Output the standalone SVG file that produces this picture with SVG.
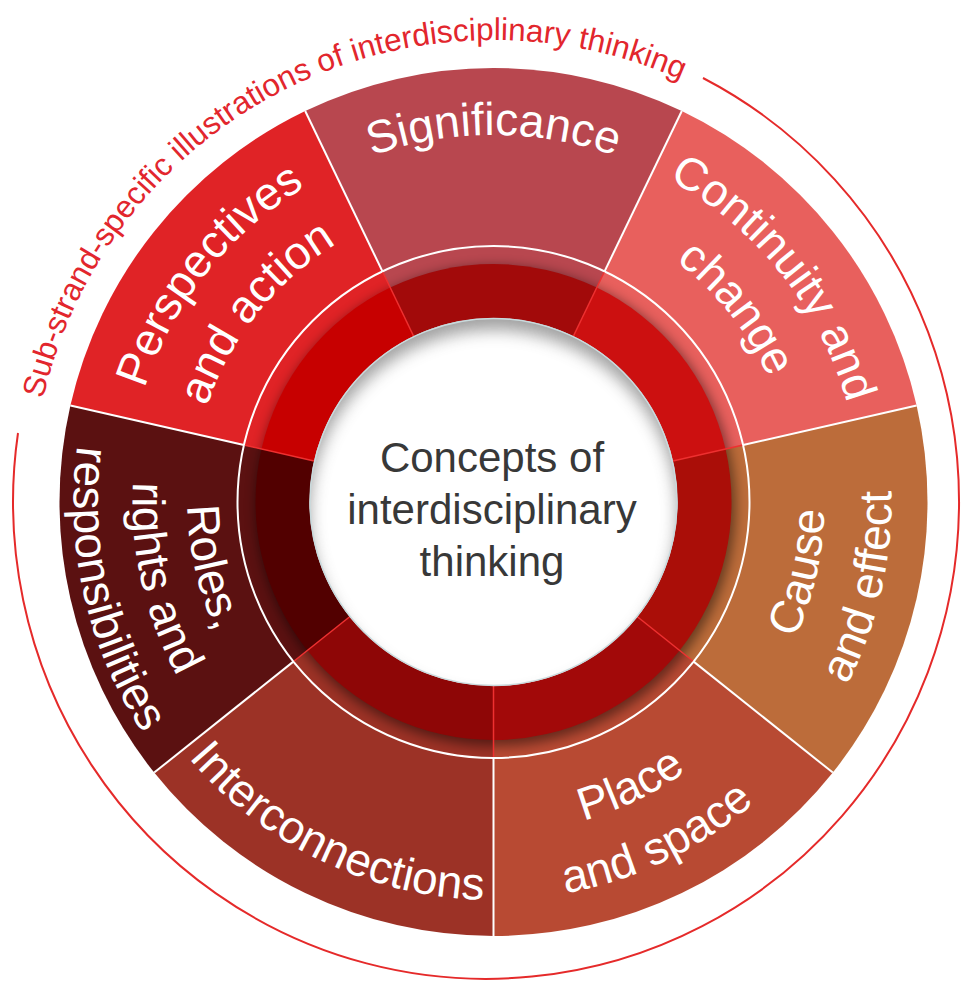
<svg xmlns="http://www.w3.org/2000/svg" width="962" height="982" viewBox="0 0 962 982">
<style>
.lbl{font-family:"Liberation Sans",Arial,sans-serif;font-size:46px;fill:#ffffff}
.ctr{font-family:"Liberation Sans",Arial,sans-serif;font-size:42px;fill:#383838;text-anchor:middle}
.ttl{font-family:"Liberation Sans",Arial,sans-serif;font-size:31.5px;fill:#e2262d}
.wdiv{stroke:#ffffff;stroke-width:2;fill:none}
.rdiv{stroke:#ee3030;stroke-width:1.5;fill:none}
</style>
<defs>
<filter id="blur6" x="-20%" y="-20%" width="140%" height="140%"><feGaussianBlur stdDeviation="6"/></filter>
<filter id="blur8" x="-20%" y="-20%" width="140%" height="140%"><feGaussianBlur stdDeviation="8"/></filter>
<clipPath id="clipBand"><circle cx="493.5" cy="502" r="255"/></clipPath>
<clipPath id="clipCenter"><circle cx="493.5" cy="502" r="184"/></clipPath>
<path id="p-sig" d="M175.67,318.5 A367,367 0 0 1 811.33,318.5" fill="none"/>
<path id="p-per1" d="M151.87,636.08 A367,367 0 0 1 548.20,139.10" fill="none"/>
<path id="p-per2" d="M212.38,612.33 A302,302 0 0 1 538.51,203.37" fill="none"/>
<path id="p-con1" d="M438.80,139.10 A367,367 0 0 1 835.13,636.08" fill="none"/>
<path id="p-con2" d="M448.49,203.37 A302,302 0 0 1 774.62,612.33" fill="none"/>
<path id="p-cau1" d="M591.07,818.29 A331,331 0 0 0 718.64,259.36" fill="none"/>
<path id="p-cau2" d="M610.81,882.32 A398,398 0 0 0 764.21,210.25" fill="none"/>
<path id="p-pla1" d="M307.04,775.49 A331,331 0 0 0 823.57,526.74" fill="none"/>
<path id="p-pla2" d="M269.30,830.84 A398,398 0 0 0 890.39,531.74" fill="none"/>
<path id="p-int" d="M96.61,531.74 A398,398 0 0 0 717.70,830.84" fill="none"/>
<path id="p-rol1" d="M285.37,277.69 A306,306 0 0 0 403.30,794.40" fill="none"/>
<path id="p-rol2" d="M247.96,237.37 A361,361 0 0 0 387.09,846.96" fill="none"/>
<path id="p-rol3" d="M207.83,194.12 A420,420 0 0 0 369.70,903.34" fill="none"/>
<path id="p-title" d="M43.16,398.86 A462,462 0 0 1 893.6,271" fill="none"/>
</defs>

<rect width="962" height="982" fill="#ffffff"/>

<g id="seg-place-and-space">
<path d="M493.5,502 L832.81,772.59 A434,434 0 0 1 493.5,936 Z" fill="#b84a33"/>
<text class="lbl"><textPath href="#p-pla1" startOffset="50%" text-anchor="middle">Place</textPath></text>
<text class="lbl"><textPath href="#p-pla2" startOffset="50%" text-anchor="middle">and space</textPath></text>
</g>
<g id="seg-interconnections">
<path d="M493.5,502 L493.5,936 A434,434 0 0 1 154.19,772.59 Z" fill="#9c3226"/>
<text class="lbl"><textPath href="#p-int" startOffset="50%" text-anchor="middle">Interconnections</textPath></text>
</g>
<g id="seg-roles-rights-responsibilities">
<path d="M493.5,502 L154.19,772.59 A434,434 0 0 1 70.38,405.43 Z" fill="#5b1111"/>
<text class="lbl"><textPath href="#p-rol1" startOffset="50%" text-anchor="middle">Roles,</textPath></text>
<text class="lbl"><textPath href="#p-rol2" startOffset="50%" text-anchor="middle">rights and</textPath></text>
<text class="lbl"><textPath href="#p-rol3" startOffset="50%" text-anchor="middle">responsibilities</textPath></text>
</g>
<g id="seg-perspectives-and-action">
<path d="M493.5,502 L70.38,405.43 A434,434 0 0 1 305.20,110.98 Z" fill="#e02326"/>
<text class="lbl"><textPath href="#p-per1" startOffset="50%" text-anchor="middle">Perspectives</textPath></text>
<text class="lbl"><textPath href="#p-per2" startOffset="50%" text-anchor="middle">and action</textPath></text>
</g>
<g id="seg-significance">
<path d="M493.5,502 L305.20,110.98 A434,434 0 0 1 681.80,110.98 Z" fill="#b8474f"/>
<text class="lbl"><textPath href="#p-sig" startOffset="50%" text-anchor="middle">Significance</textPath></text>
</g>
<g id="seg-continuity-and-change">
<path d="M493.5,502 L681.80,110.98 A434,434 0 0 1 916.62,405.43 Z" fill="#e8605d"/>
<text class="lbl"><textPath href="#p-con1" startOffset="50%" text-anchor="middle">Continuity and</textPath></text>
<text class="lbl"><textPath href="#p-con2" startOffset="50%" text-anchor="middle">change</textPath></text>
</g>
<g id="seg-cause-and-effect">
<path d="M493.5,502 L916.62,405.43 A434,434 0 0 1 832.81,772.59 Z" fill="#bc6c3a"/>
<text class="lbl"><textPath href="#p-cau1" startOffset="50%" text-anchor="middle">Cause</textPath></text>
<text class="lbl"><textPath href="#p-cau2" startOffset="50%" text-anchor="middle">and effect</textPath></text>
</g>

<g id="ring-shadow" clip-path="url(#clipBand)">
<circle cx="495.5" cy="506" r="240" fill="#000000" opacity="0.45" filter="url(#blur6)"/>
</g>

<g id="inner-ring">
<path d="M493.5,502 L679.58,650.39 A238,238 0 0 1 493.5,740 Z" fill="#a20909"/>
<path d="M493.5,502 L493.5,740 A238,238 0 0 1 307.42,650.39 Z" fill="#8e0606"/>
<path d="M493.5,502 L307.42,650.39 A238,238 0 0 1 261.47,449.04 Z" fill="#520000"/>
<path d="M493.5,502 L261.47,449.04 A238,238 0 0 1 390.24,287.57 Z" fill="#c70000"/>
<path d="M493.5,502 L390.24,287.57 A238,238 0 0 1 596.76,287.57 Z" fill="#a20a0a"/>
<path d="M493.5,502 L596.76,287.57 A238,238 0 0 1 725.53,449.04 Z" fill="#cc1010"/>
<path d="M493.5,502 L725.53,449.04 A238,238 0 0 1 679.58,650.39 Z" fill="#aa0e08"/>
</g>

<g id="dividers">
<circle cx="493.5" cy="502" r="256" class="wdiv"/>
<line class="rdiv" x1="493.5" y1="686" x2="493.5" y2="757"/>
<line class="rdiv" x1="349.64" y1="616.72" x2="294.13" y2="660.99"/>
<line class="rdiv" x1="314.11" y1="461.06" x2="244.9" y2="445.25"/>
<line class="rdiv" x1="413.67" y1="336.22" x2="382.86" y2="272.25"/>
<line class="rdiv" x1="573.33" y1="336.22" x2="604.14" y2="272.25"/>
<line class="rdiv" x1="672.89" y1="461.06" x2="742.1" y2="445.25"/>
<line class="rdiv" x1="637.36" y1="616.72" x2="692.87" y2="660.99"/>
<line class="wdiv" x1="493.5" y1="758" x2="493.5" y2="936"/>
<line class="wdiv" x1="293.35" y1="661.61" x2="154.19" y2="772.59"/>
<line class="wdiv" x1="243.92" y1="445.03" x2="70.38" y2="405.43"/>
<line class="wdiv" x1="382.43" y1="271.35" x2="305.20" y2="110.98"/>
<line class="wdiv" x1="604.57" y1="271.35" x2="681.80" y2="110.98"/>
<line class="wdiv" x1="743.08" y1="445.03" x2="916.62" y2="405.43"/>
<line class="wdiv" x1="693.65" y1="661.61" x2="832.81" y2="772.59"/>
</g>

<g id="center">
<circle cx="493.5" cy="502" r="184" fill="#ffffff"/>
<g clip-path="url(#clipCenter)">
<circle cx="493.5" cy="514" r="204" fill="none" stroke="#555555" stroke-width="40" opacity="0.55" filter="url(#blur8)"/>
</g>
<circle cx="493.5" cy="502" r="183.5" fill="none" stroke="#c9dadd" stroke-width="1.5"/>
<text class="ctr" x="492" y="472">Concepts of</text>
<text class="ctr" x="492" y="524">interdisciplinary</text>
<text class="ctr" x="492" y="576">thinking</text>
</g>

<g id="title-arc">
<path d="M18,433 A473,477 0 1 0 703,78" fill="none" stroke="#e52a2a" stroke-width="2"/>
<text class="ttl"><textPath href="#p-title">Sub-strand-specific illustrations of interdisciplinary thinking</textPath></text>
</g>
</svg>
